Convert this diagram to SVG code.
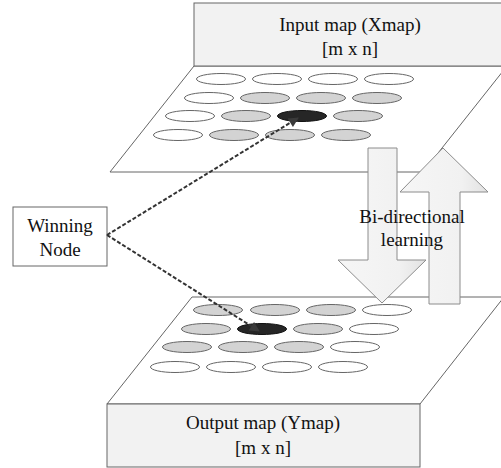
<svg xmlns="http://www.w3.org/2000/svg" width="501" height="468" viewBox="0 0 501 468">
<style>
text{font-family:"Liberation Serif","Times New Roman",serif;font-size:19px;fill:#111;text-anchor:middle}
.plane{fill:#fff;stroke:#666;stroke-width:1}
.box{fill:#f2f2f2;stroke:#666;stroke-width:1}
.e{stroke:#666;stroke-width:1}
.w{fill:#fff}.g{fill:#d3d3d3}.b{fill:#262626;stroke:#111}
.big{fill:url(#ag);stroke:#8c8c8c;stroke-width:1}
.dash{fill:none;stroke:#333;stroke-width:2;stroke-dasharray:4 2}
</style>
<defs>
<linearGradient id="ag" x1="0" y1="0" x2="1" y2="0">
<stop offset="0" stop-color="#f6f6f6"/><stop offset="0.7" stop-color="#f1f1f1"/><stop offset="1" stop-color="#e2e2e2"/>
</linearGradient>
<marker id="ah" viewBox="0 0 10 10" refX="9" refY="5" markerWidth="6" markerHeight="5" orient="auto" markerUnits="strokeWidth">
<path d="M0,0L10,5L0,10z" fill="#3a3a3a"/>
</marker>
</defs>
<g id="input-map">
<polygon class="plane" points="194,66 507,66 423,172 110,172"/>
<rect class="box" x="194" y="3" width="310" height="63"/>
<text x="350" y="31">Input map (Xmap)</text>
<text x="350" y="55">[m x n]</text>
<g>
<ellipse class="e w" cx="221" cy="79" rx="24.5" ry="5.5"/>
<ellipse class="e w" cx="277" cy="79" rx="24.5" ry="5.5"/>
<ellipse class="e w" cx="333" cy="79" rx="24.5" ry="5.5"/>
<ellipse class="e w" cx="389" cy="79" rx="24.5" ry="5.5"/>
<ellipse class="e w" cx="209" cy="98" rx="24.5" ry="5.5"/>
<ellipse class="e g" cx="265" cy="98" rx="24.5" ry="5.5"/>
<ellipse class="e g" cx="321" cy="98" rx="24.5" ry="5.5"/>
<ellipse class="e g" cx="377" cy="98" rx="24.5" ry="5.5"/>
<ellipse class="e w" cx="190" cy="116" rx="24.5" ry="5.5"/>
<ellipse class="e g" cx="246" cy="116" rx="24.5" ry="5.5"/>
<ellipse class="e b" cx="302" cy="116" rx="24.5" ry="5.5"/>
<ellipse class="e g" cx="358" cy="116" rx="24.5" ry="5.5"/>
<ellipse class="e w" cx="178" cy="135" rx="24.5" ry="5.5"/>
<ellipse class="e g" cx="234" cy="135" rx="24.5" ry="5.5"/>
<ellipse class="e g" cx="290" cy="135" rx="24.5" ry="5.5"/>
<ellipse class="e g" cx="346" cy="135" rx="24.5" ry="5.5"/>
</g>
</g>
<g id="output-map">
<polygon class="plane" points="192,297 504,297 420,404 107,404"/>
<rect class="box" x="107" y="404" width="313" height="63"/>
<text x="263" y="429">Output map (Ymap)</text>
<text x="263" y="454">[m x n]</text>
<g>
<ellipse class="e g" cx="218" cy="310" rx="24.5" ry="5.5"/>
<ellipse class="e g" cx="275" cy="310" rx="24.5" ry="5.5"/>
<ellipse class="e g" cx="331" cy="310" rx="24.5" ry="5.5"/>
<ellipse class="e w" cx="387" cy="310" rx="24.5" ry="5.5"/>
<ellipse class="e g" cx="206" cy="329" rx="24.5" ry="5.5"/>
<ellipse class="e b" cx="262" cy="329" rx="24.5" ry="5.5"/>
<ellipse class="e g" cx="318" cy="329" rx="24.5" ry="5.5"/>
<ellipse class="e w" cx="374" cy="329" rx="24.5" ry="5.5"/>
<ellipse class="e g" cx="187" cy="347" rx="24.5" ry="5.5"/>
<ellipse class="e g" cx="243" cy="347" rx="24.5" ry="5.5"/>
<ellipse class="e g" cx="299" cy="347" rx="24.5" ry="5.5"/>
<ellipse class="e w" cx="355" cy="347" rx="24.5" ry="5.5"/>
<ellipse class="e w" cx="175" cy="367" rx="24.5" ry="5.5"/>
<ellipse class="e w" cx="231" cy="367" rx="24.5" ry="5.5"/>
<ellipse class="e w" cx="287" cy="367" rx="24.5" ry="5.5"/>
<ellipse class="e w" cx="343" cy="367" rx="24.5" ry="5.5"/>
</g>
</g>
<g id="bidirectional-arrows">
<polygon class="big" points="429,304 429,192 400,192 443,148 488,192 460,192 460,304"/>
<polygon class="big" points="368,148 397,148 397,260 426,260 382,303 338,260 368,260"/>
<text x="412" y="223">Bi-directional</text>
<text x="412" y="246">learning</text>
</g>
<g id="winning-node">
<rect x="13" y="207" width="94" height="59" fill="#fff" stroke="#666"/>
<text x="60" y="232">Winning</text>
<text x="60" y="256">Node</text>
</g>
<g id="connectors">
<line class="dash" x1="107" y1="235" x2="298" y2="118" marker-end="url(#ah)"/>
<line class="dash" x1="107" y1="235" x2="259" y2="331" marker-end="url(#ah)"/>
</g>
</svg>
